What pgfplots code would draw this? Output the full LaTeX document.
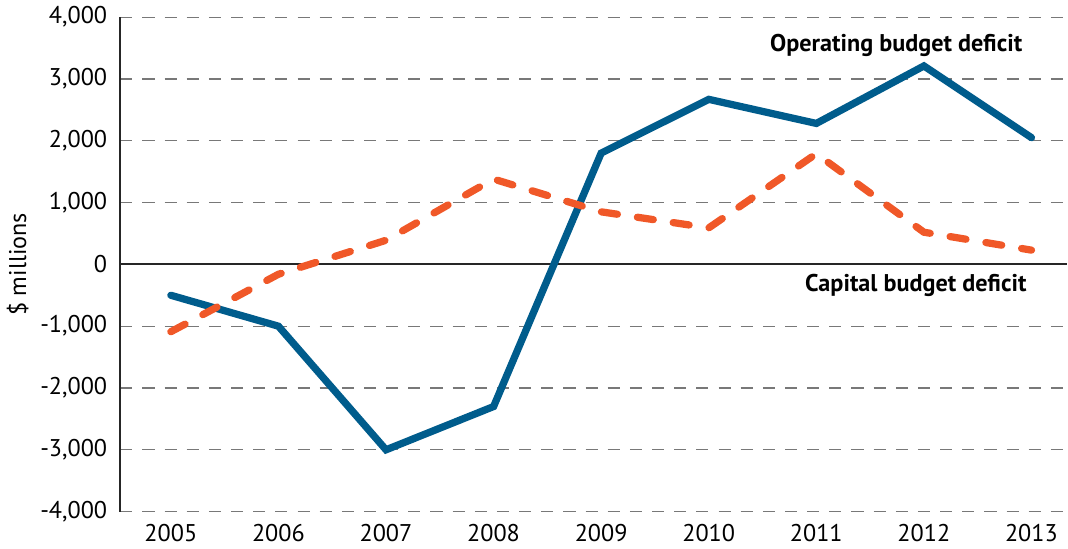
\documentclass[border=0pt]{standalone}
\usepackage{pgfplots}
\pgfplotsset{compat=1.18}
\usepackage{fontspec}
\setmainfont{PT Sans}
\definecolor{opblue}{RGB}{0,92,140}
\definecolor{caporange}{RGB}{240,88,40}
\definecolor{gridgray}{RGB}{120,120,120}

\begin{document}
\begin{tikzpicture}
\begin{axis}[
  scale only axis,
  width=470pt,height=245.5pt,
  xmin=2004.53,xmax=2013.33,
  ymin=-4000,ymax=4000,
  ytick={-4000,-3000,...,4000},
  xtick={2005,...,2013},
  xticklabels={2005,2006,2007,2008,2009,2010,2011,2012,2013},
  /pgf/number format/assume math mode=true,
  /pgf/number format/1000 sep={,},
  font=\fontsize{12}{14}\selectfont,
  ticklabel style={font=\fontsize{12}{14}\selectfont},
  axis x line*=bottom,
  x axis line style={draw=none},
  axis y line*=left,
  y axis line style={line width=1.1pt,draw=black!85,-},
  major tick length=0pt,
  xticklabel style={yshift=-3pt},
  yticklabel style={xshift=-3pt},
  ymajorgrids,
  grid style={gridgray,line width=0.6pt,dash pattern=on 6pt off 5pt},
  ylabel={\$ millions},
  ylabel style={yshift=-1pt},
  clip=false,
]
\draw[black!85,line width=1pt] (axis cs:2004.53,0) -- (axis cs:2013.33,0);
\addplot[opblue,line width=3.6pt,line join=miter,line cap=round] coordinates {
  (2005,-500)(2006,-1000)(2007,-3000)(2008,-2300)(2009,1800)
  (2010,2670)(2011,2280)(2012,3210)(2013,2050)};
\addplot[caporange,line width=3.6pt,line cap=round,dash pattern=on 8pt off 10pt] coordinates {
  (2005,-1090)(2006,-160)(2007,390)(2008,1380)(2009,850)
  (2010,590)(2011,1790)(2012,520)(2013,230)};
\node[anchor=east,font=\bfseries\fontsize{12}{14}\selectfont] at (axis cs:2012.98,3540) {Operating budget deficit};
\node[anchor=east,font=\bfseries\fontsize{12}{14}\selectfont] at (axis cs:2013.02,-340) {Capital budget deficit};
\end{axis}
\end{tikzpicture}
\end{document}
